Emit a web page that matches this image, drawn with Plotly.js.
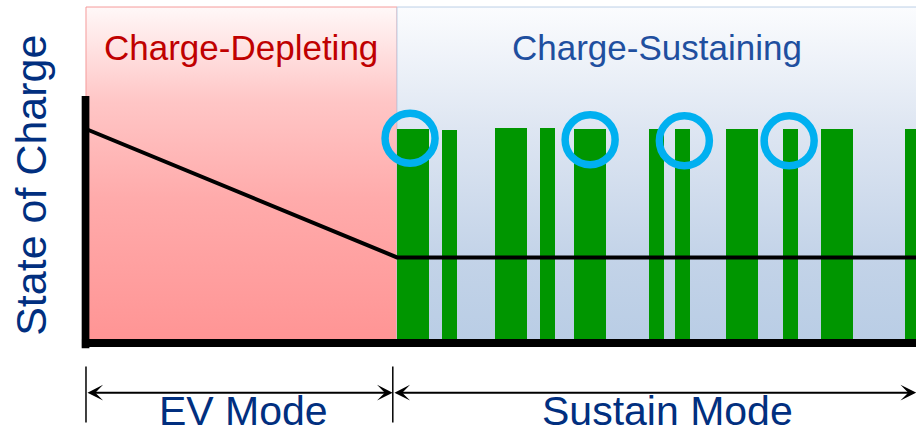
<!DOCTYPE html>
<html>
<head>
<meta charset="utf-8">
<script src="https://cdn.plot.ly/plotly-3.0.1.min.js"></script>
<style>
  html, body { margin: 0; padding: 0; background: #ffffff; }
  #chart { width: 916px; height: 435px; }
</style>
</head>
<body>
<div id="chart"></div>
<script>
// ---------------- data (time units: EV mode = 0..100, SOC in % of start) ----------------
const phaseNames = ['Charge-Depleting', 'Charge-Sustaining'];
const phaseStart = [0, 100];
const phaseEnd = [100, 272];

const modeNames = ['EV Mode', 'Sustain Mode'];
const modeStart = [0, 98.7];
const modeEnd = [98.6, 266.9];

const engineOnTime = [105.1, 116.9, 136.7, 148.4, 162.1, 183.4, 191.8, 210.9, 226.5, 241.5, 268.5];
const engineOnDuration = [10.4, 4.8, 10.3, 4.8, 10.3, 4.8, 4.8, 10.3, 4.8, 10.3, 10.3];
const engineOnLevel = [100, 99.5, 100.5, 100.5, 100, 100, 100, 100, 100, 100, 100];

const socTime = [0, 100, 272];
const socValue = [100, 40, 40];

const engineStartTime = [104.2, 162.1, 192.4, 226.1];
const engineStartLevel = [95.7, 95.0, 94.5, 94.5];

const yAxisTitle = 'State of Charge';

// ---------------- styling / layout constants ----------------
const X_RANGE = [-27.65, 266.88];
const Y_RANGE = [-42.99, 160.28];
const REGION_TOP = 157;
const FONT = 'Arial, "Liberation Sans", sans-serif';
const NAVY = '#012f7f';

const traces = [];

// phase background regions (bottom subplot)
const regionStyles = [
  { line: '#f59a9a', scale: [[0, '#ff9494'], [0.43, '#ffabab'], [0.72, '#ffc6c6'], [1, '#fff8f8']] },
  { line: '#bccfe6', scale: [[0, '#b9cde5'], [0.255, '#c3d3e8'], [0.64, '#dee6f2'], [1, '#fbfcfe']] }
];
phaseNames.forEach((name, i) => {
  traces.push({
    type: 'scatter', mode: 'lines', name: name,
    x: [phaseStart[i], phaseEnd[i], phaseEnd[i], phaseStart[i], phaseStart[i]],
    y: [0, 0, REGION_TOP, REGION_TOP, 0],
    fill: 'toself',
    fillgradient: { type: 'vertical', colorscale: regionStyles[i].scale },
    line: { color: regionStyles[i].line, width: 1 },
    hoverinfo: 'skip', showlegend: false,
    xaxis: 'x', yaxis: 'y'
  });
});

// engine-on bars (overlay subplot, drawn above the regions)
traces.push({
  type: 'bar', name: 'Engine on',
  x: engineOnTime, y: engineOnLevel, width: engineOnDuration,
  marker: { color: '#009600', line: { width: 0 } },
  hoverinfo: 'skip', showlegend: false,
  xaxis: 'x2', yaxis: 'y2'
});

// state-of-charge line
traces.push({
  type: 'scatter', mode: 'lines', name: 'SOC',
  x: socTime, y: socValue,
  line: { color: '#000000', width: 4 },
  hoverinfo: 'skip', showlegend: false,
  xaxis: 'x2', yaxis: 'y2'
});

// engine-start circles
traces.push({
  type: 'scatter', mode: 'markers', name: 'Engine start',
  x: engineStartTime, y: engineStartLevel,
  marker: { symbol: 'circle-open', size: 50, color: '#00b0f0', line: { width: 7.5, color: '#00b0f0' } },
  hoverinfo: 'skip', showlegend: false,
  xaxis: 'x2', yaxis: 'y2'
});

const hiddenAxis = (extra) => Object.assign({
  visible: false, showgrid: false, zeroline: false, showticklabels: false, fixedrange: true
}, extra);

const annotations = [];
// phase labels
const phaseColors = ['#c00000', '#1f4f9f'];
phaseNames.forEach((name, i) => {
  const xr = [phaseStart[i], Math.min(phaseEnd[i], X_RANGE[1])];
  annotations.push({
    text: name, x: (xr[0] + xr[1]) / 2, y: 138.2, xref: 'x', yref: 'y',
    showarrow: false, xanchor: 'center', yanchor: 'middle',
    font: { family: FONT, size: 35, color: phaseColors[i] }
  });
});
// mode arrows + labels
modeNames.forEach((name, i) => {
  annotations.push({
    x: modeEnd[i], y: -23.2, ax: modeStart[i], ay: -23.2,
    xref: 'x', yref: 'y', axref: 'x', ayref: 'y',
    text: '', showarrow: true, arrowside: 'end+start',
    arrowhead: 3, startarrowhead: 3, arrowsize: 1.3, startarrowsize: 1.3,
    arrowwidth: 2, arrowcolor: '#000000', standoff: 0, startstandoff: 0
  });
  annotations.push({
    text: name, x: (modeStart[i] + modeEnd[i]) / 2 + (i === 0 ? 1.3 : 4.3), y: -32.0,
    xref: 'x', yref: 'y', showarrow: false, xanchor: 'center', yanchor: 'middle',
    font: { family: FONT, size: 41, color: NAVY }
  });
});
// y-axis title
annotations.push({
  text: yAxisTitle, x: -17.9, y: 73.6, xref: 'x', yref: 'y',
  showarrow: false, textangle: -90, xanchor: 'center', yanchor: 'middle',
  font: { family: FONT, size: 43, color: NAVY }
});

const shapes = [
  // vertical axis line
  { type: 'line', xref: 'x', yref: 'y', x0: -0.15, x1: -0.15, y0: -2.4, y1: 115.4,
    line: { color: '#000000', width: 7.7 }, layer: 'above' },
  // horizontal baseline
  { type: 'line', xref: 'x', yref: 'y', x0: -1.3, x1: 272, y0: 0, y1: 0,
    line: { color: '#000000', width: 8 }, layer: 'above' },
  // mode boundary ticks
  { type: 'line', xref: 'x', yref: 'y', x0: modeStart[0], x1: modeStart[0], y0: -11.0, y1: -37.2,
    line: { color: '#000000', width: 1.5 }, layer: 'above' },
  { type: 'line', xref: 'x', yref: 'y', x0: modeEnd[0] + 0.05, x1: modeEnd[0] + 0.05, y0: -11.0, y1: -37.2,
    line: { color: '#000000', width: 1.5 }, layer: 'above' }
];

const layout = {
  width: 916, height: 435,
  margin: { l: 0, r: 0, t: 0, b: 0, pad: 0 },
  paper_bgcolor: '#ffffff', plot_bgcolor: '#ffffff',
  showlegend: false,
  xaxis: hiddenAxis({ range: X_RANGE }),
  yaxis: hiddenAxis({ range: Y_RANGE }),
  xaxis2: hiddenAxis({ range: X_RANGE, overlaying: 'x', anchor: 'y2' }),
  yaxis2: hiddenAxis({ range: Y_RANGE, overlaying: 'y', anchor: 'x2' }),
  bargap: 0,
  annotations: annotations,
  shapes: shapes
};

Plotly.newPlot('chart', traces, layout, { displayModeBar: false, staticPlot: true });
</script>
</body>
</html>
